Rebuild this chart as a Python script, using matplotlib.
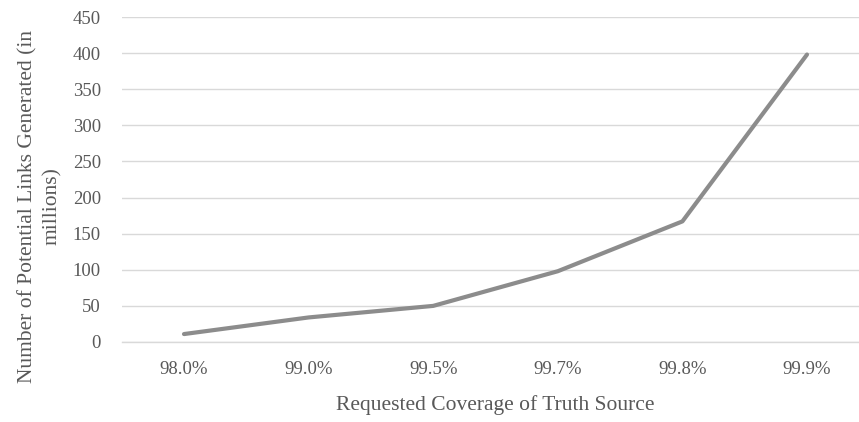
import matplotlib.pyplot as plt

# data
coverage = ["98.0%", "99.0%", "99.5%", "99.7%", "99.8%", "99.9%"]
links_millions = [11, 34, 50, 98, 167, 398]
y_ticks = [0, 50, 100, 150, 200, 250, 300, 350, 400, 450]

plt.rcParams["font.family"] = ["Liberation Serif", "DejaVu Serif"]
text_color = "#595959"

fig = plt.figure(figsize=(8.59, 4.22), dpi=100)
ax = fig.add_axes([121.7 / 859, 1 - 342 / 422, 747.6 / 859, 325 / 422])

x = range(len(coverage))
ax.plot(x, links_millions, color="#8c8c8c", linewidth=3.0, solid_capstyle="round")

ax.set_xlim(-0.5, len(coverage) - 0.5)
ax.set_ylim(0, 450)
ax.set_yticks(y_ticks)
ax.set_xticks(list(x))
ax.set_xticklabels(coverage)

ax.grid(axis="y", color="#d9d9d9", linewidth=1)
ax.set_axisbelow(True)
for side in ["top", "right", "left"]:
    ax.spines[side].set_visible(False)
ax.spines["bottom"].set_color("#d9d9d9")
ax.spines["bottom"].set_linewidth(1)

ax.tick_params(axis="both", length=0, labelsize=13.5, colors=text_color)
ax.tick_params(axis="y", pad=15)
ax.tick_params(axis="x", pad=14)

ax.set_xlabel("Requested Coverage of Truth Source", fontsize=15.5,
              color=text_color, labelpad=12)
ax.set_ylabel("Number of Potential Links Generated (in\nmillions)",
              fontsize=15.5, color=text_color, linespacing=1.35,
              va="center", ha="center")
ax.yaxis.set_label_coords(-0.109, 0.418)

fig.savefig("out.png", dpi=100)
plt.close()
